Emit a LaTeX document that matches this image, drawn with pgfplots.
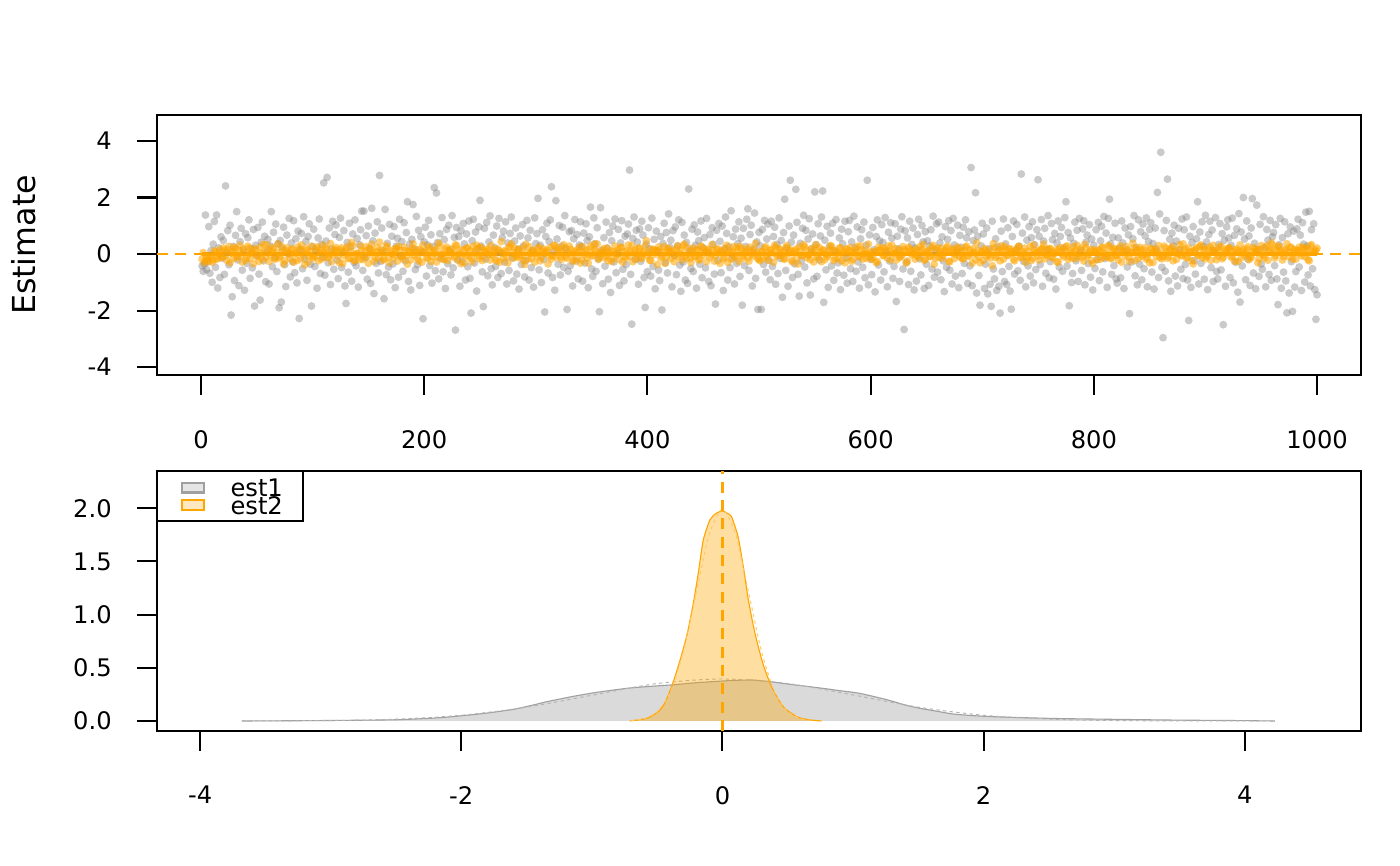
\documentclass[border=0pt]{standalone}
\usepackage{pgfplots}
\usepackage{pgfplotstable}
\pgfplotsset{compat=1.18}
\usepackage{fontspec}
\setmainfont{DejaVu Sans}
\definecolor{rorange}{HTML}{FFA500}
\definecolor{rgray}{HTML}{808080}
\pgfplotstableread[header=false]{
-0.42 -0.61 -0.35 1.38 -0.55 -0.28 0.97 -0.68 0.12 -1.00
0.35 1.15 -0.47 1.38 -1.20 0.22 -0.83 0.61 -0.15 0.48
-0.72 2.41 0.05 0.83 -0.38 1.02 -2.16 -1.51 0.27 -0.94
0.66 1.50 -0.21 -1.12 0.44 0.91 -0.57 0.13 -1.28 0.72
-0.33 0.58 1.21 -0.86 0.19 -0.49 0.87 -1.84 0.31 -0.05
0.94 -0.71 -1.63 0.42 1.13 -0.24 0.63 -0.98 0.08 0.52
-1.06 0.29 1.50 -0.45 0.77 -0.13 1.06 -0.62 0.36 -1.90
0.48 -1.70 0.21 0.95 -0.38 -1.15 0.67 0.02 1.26 -0.81
0.39 -0.27 1.18 -0.66 0.54 -1.02 0.81 -2.28 0.16 0.73
-0.52 1.32 -0.18 0.45 -0.93 0.62 1.07 -0.36 -1.84 0.26
0.88 -0.44 0.11 -1.21 0.57 1.24 -0.69 0.34 -0.12 2.52
-0.75 0.46 2.71 -0.31 0.92 -1.08 0.18 1.16 -0.54 0.69
1.03 -0.22 -0.87 0.59 1.27 -0.48 0.07 0.83 -1.13 -1.75
0.41 -0.64 1.09 0.24 -0.96 0.71 -0.29 1.21 -0.42 0.55
-1.17 0.33 0.86 1.52 -0.58 1.52 -0.14 0.65 -0.89 0.99
0.21 -1.04 1.62 0.47 -1.40 0.74 -0.33 1.14 -0.67 2.78
-0.26 0.92 0.12 -1.58 1.58 -0.73 0.38 -0.46 1.05 -0.91
0.63 -0.35 0.97 -1.19 0.28 0.56 -0.82 1.23 -0.07 0.44
-0.61 1.11 -0.24 0.76 1.85 -0.97 0.35 -1.27 0.52 1.75
0.17 -0.55 1.33 -0.38 0.84 -1.11 0.61 0.09 -2.29 0.43
0.95 -0.78 0.32 1.19 -0.41 0.68 -1.03 0.26 2.35 -0.59
2.16 0.41 -0.88 0.72 -0.16 1.29 -0.63 0.51 -1.22 0.87
-0.34 1.02 0.15 -0.74 1.36 -0.49 0.59 -2.69 0.94 -0.21
0.62 -1.14 0.83 -0.27 1.08 0.36 -0.92 0.71 -0.45 1.17
-0.86 -2.09 0.47 1.23 -0.32 0.78 -1.31 0.19 0.96 1.90
0.28 -0.63 -1.86 0.91 -0.18 1.12 -0.77 0.43 1.35 -0.52
-1.09 0.67 0.23 -0.44 0.99 -0.83 1.26 0.05 -0.69 0.58
0.81 -0.29 1.14 -1.06 0.39 -0.58 0.73 1.31 -0.14 -0.95
0.46 0.92 -0.71 0.18 -1.24 0.64 -0.37 1.04 0.29 -0.81
-0.23 1.19 0.57 -0.92 0.84 -0.48 0.13 -1.17 1.28 0.37
0.72 1.97 -0.56 0.31 -1.01 0.86 -0.19 -2.05 0.62 1.09
-0.67 0.44 1.21 2.38 -0.83 0.09 -1.28 1.89 0.53 -0.36
1.01 -0.74 0.28 0.95 -0.47 1.36 0.17 -1.96 -0.61 0.79
-0.41 0.83 -1.13 0.54 1.22 -0.25 0.69 -0.88 0.32 1.14
0.26 -0.96 0.74 -0.32 1.07 0.48 -1.19 0.61 1.66 -0.53
-0.79 1.28 0.36 -0.61 0.93 -0.17 -2.04 1.64 0.14 -1.05
0.58 -0.43 1.13 0.21 -0.89 0.76 -1.36 0.47 0.99 -0.28
1.24 -0.66 0.04 0.87 -1.11 0.39 1.18 -0.54 -0.95 0.63
-0.37 0.71 1.06 2.97 -0.72 -2.48 0.55 1.31 -0.19 0.84
0.42 -1.07 0.89 -0.26 1.16 0.67 -0.83 -1.89 0.35 -0.62
0.93 0.18 -0.78 1.27 -0.44 0.52 -1.23 0.81 0.11 -0.57
-0.94 0.62 -1.98 0.37 1.09 -0.31 0.76 -0.67 1.42 0.24
0.49 -1.16 0.83 -0.05 0.96 -0.73 0.29 1.21 -0.39 -1.32
1.12 -0.28 0.67 -0.92 0.41 -1.04 2.30 0.16 -0.51 0.88
-0.62 1.03 0.31 -1.21 0.78 0.47 -0.36 1.17 -0.84 0.22
0.58 -0.49 1.26 0.07 -0.97 0.69 -1.12 0.93 0.34 -0.71
-1.77 0.84 -0.23 1.08 0.45 -0.66 0.99 -1.29 0.19 1.31
0.73 -0.92 0.26 -0.48 1.53 -0.14 0.61 -1.06 0.88 -0.33
0.37 1.14 -0.79 0.56 -1.81 0.91 -0.41 0.27 1.23 1.60
-0.58 0.69 1.02 -1.13 0.18 1.45 -0.86 0.43 -1.96 0.77
0.29 -1.96 0.87 -0.37 1.19 -0.64 0.53 1.06 -0.22 -0.91
1.16 -0.44 0.62 0.95 -1.07 0.34 -0.69 1.28 -0.16 0.48
-1.53 0.76 1.94 -0.58 0.21 -1.14 0.99 2.61 0.42 -0.83
0.67 -0.35 2.29 1.12 -0.72 -1.49 0.38 -0.24 0.91 1.37
-0.46 0.84 -1.02 0.53 1.25 -1.45 0.17 0.71 -0.88 2.20
0.33 -0.79 1.07 -0.21 0.64 1.31 2.23 -1.71 0.49 -0.56
0.98 -1.18 0.26 0.74 -0.42 1.09 -0.93 0.12 1.22 -0.67
-0.31 0.57 -1.26 0.88 0.36 -0.75 1.16 -0.14 -1.03 0.79
1.19 -0.52 0.43 -0.97 1.34 0.22 -0.61 0.96 -0.28 -1.21
0.54 0.86 -0.47 1.13 -0.84 0.31 2.61 -1.09 0.68 -0.19
-0.73 0.94 0.15 -1.34 0.62 1.21 -0.39 0.47 -0.92 1.04
0.41 -0.63 1.29 0.08 -1.16 0.77 -0.25 1.11 0.56 -0.86
-0.44 1.07 -1.68 0.63 0.19 -0.97 0.88 1.32 -0.53 -2.67
0.82 -0.29 0.57 -1.08 1.16 -0.61 0.34 0.92 -1.27 0.21
-0.96 0.69 1.23 -0.17 -0.74 1.01 0.43 -1.22 0.79 -0.36
0.47 -1.11 0.28 0.86 -0.53 1.34 -0.82 0.14 1.07 -0.64
1.13 0.39 -0.91 0.61 -0.24 -1.33 0.97 -0.47 0.52 1.18
-0.57 0.83 -1.06 1.26 0.32 -0.78 0.08 1.02 -1.19 0.66
0.24 -0.69 0.95 -0.33 1.21 0.57 -1.04 0.79 -0.42 3.06
-1.12 0.47 0.85 2.17 -1.38 0.63 -0.76 -1.81 0.29 1.09
0.71 -1.22 -0.36 0.92 -1.41 0.19 -1.07 -1.85 1.16 -0.53
-0.88 0.54 -1.29 0.27 -1.14 -2.09 0.81 -0.62 1.24 -0.97
0.36 -1.08 0.93 -0.44 -1.31 -1.95 0.62 1.17 -0.71 0.15
1.05 -0.59 0.28 -0.93 2.83 0.74 -0.26 1.31 -1.16 0.49
-0.42 0.97 -0.78 0.58 1.14 -1.02 0.33 -0.55 0.86 2.63
0.63 -0.37 1.22 -1.14 0.46 0.91 -0.68 0.17 1.36 -0.84
-0.27 1.08 0.51 -0.89 0.73 -1.24 0.39 1.17 -0.46 0.62
0.94 -0.61 0.22 1.29 1.85 -0.43 0.76 -1.83 0.57 -1.01
-0.69 0.38 1.13 -0.24 0.84 -0.97 1.26 0.11 -0.58 0.89
1.18 -1.09 0.42 0.67 -0.34 1.04 -0.82 0.53 -1.27 0.31
-0.51 0.86 -0.19 1.12 -0.94 0.47 0.98 -0.63 1.33 -0.16
0.74 -1.18 1.26 1.94 0.36 -0.72 0.59 -0.41 1.09 -0.88
-1.03 0.57 0.21 -0.84 1.17 0.39 -1.22 0.92 0.13 -0.46
0.68 -2.11 0.97 -0.28 0.54 1.36 -0.77 0.23 -1.09 1.21
-0.36 0.79 -0.91 1.06 -0.52 0.64 1.28 -1.16 0.44 0.87
1.11 -0.64 0.37 -1.24 0.92 0.18 2.18 -0.83 1.42 3.60
-0.47 -2.96 0.83 -0.61 1.19 2.65 -0.95 0.52 -1.32 0.74
0.29 1.02 -0.78 0.46 -1.13 0.91 0.16 -0.54 1.24 -0.87
0.86 -0.37 1.31 -0.92 -2.35 0.63 -1.18 0.41 0.97 -0.23
-0.71 0.54 1.85 -1.06 0.78 -0.33 1.14 0.27 -0.89 1.37
0.43 -1.26 0.69 1.16 -0.48 0.85 -0.97 0.12 1.29 -0.62
-0.88 0.34 1.08 -0.56 0.72 -2.50 0.49 -1.14 0.96 1.21
0.57 -0.83 0.31 1.27 -1.02 0.66 -0.29 0.89 -1.35 1.43
-1.70 0.78 -0.42 2.00 0.53 -0.91 1.17 -0.18 0.64 -1.11
0.92 1.96 -0.67 0.38 -1.23 1.73 0.16 -0.79 1.05 -0.35
-0.54 1.32 0.24 -1.16 0.87 0.49 -0.72 1.19 -0.93 0.61
0.76 -0.41 1.04 -0.88 -1.79 0.33 1.26 -1.21 0.58 -0.64
1.14 -0.95 -2.08 0.72 -1.38 0.96 -0.27 -2.03 0.81 -1.17
-0.62 0.89 1.23 -0.46 0.67 -1.29 1.11 0.35 -0.99 1.48
0.28 -0.74 1.51 -1.13 0.86 -0.52 1.07 -1.26 -2.31 -1.44
}\graydata
\pgfplotstableread[header=false]{
-0.18 -0.31 -0.12 -0.25 -0.05 -0.21 0.08 -0.14 0.15 -0.09
0.12 -0.22 0.27 0.03 -0.16 0.19 -0.07 0.31 -0.28 0.06
-0.11 0.21 0.02 -0.34 0.14 -0.05 0.24 -0.19 0.09 0.33
-0.26 0.07 0.18 -0.13 0.36 -0.08 0.11 -0.23 0.22 -0.02
0.16 -0.29 0.04 0.25 -0.17 0.09 -0.38 0.13 -0.06 0.28
-0.14 0.19 -0.24 0.06 0.31 -0.11 0.17 -0.03 -0.27 0.12
0.23 -0.08 0.14 -0.33 0.05 0.26 -0.15 0.41 -0.21 0.01
-0.04 0.29 -0.19 0.11 -0.09 0.18 0.35 -0.26 0.08 -0.13
0.15 -0.22 0.07 0.24 -0.31 0.03 -0.12 0.19 0.27 -0.07
-0.18 0.13 -0.36 0.09 0.21 -0.05 0.16 -0.24 0.04 0.32
0.06 -0.15 0.26 -0.09 0.12 -0.28 0.38 -0.02 -0.19 0.17
-0.23 0.08 0.19 -0.12 0.29 0.01 -0.34 0.14 -0.06 0.22
0.11 -0.27 0.04 0.31 -0.16 0.23 -0.08 0.07 0.18 -0.21
-0.03 0.16 -0.25 0.12 0.44 -0.14 0.09 -0.31 0.27 0.05
0.21 -0.11 0.14 -0.04 -0.23 0.34 -0.17 0.02 0.13 -0.29
-0.08 0.25 -0.13 0.18 0.07 -0.35 0.22 -0.06 0.29 0.11
0.14 -0.19 0.33 -0.10 0.05 0.17 -0.26 0.09 -0.14 0.24
-0.21 0.06 0.12 -0.32 0.27 -0.04 0.15 0.36 -0.12 0.03
0.19 -0.07 -0.24 0.11 -0.15 0.28 0.01 -0.20 0.23 -0.09
-0.13 0.32 0.08 -0.27 0.16 -0.03 0.21 -0.16 0.10 0.47
0.04 -0.23 0.17 0.09 -0.37 0.14 -0.08 0.26 -0.11 0.19
-0.16 0.11 -0.05 0.29 0.02 -0.21 0.35 -0.14 0.07 -0.30
0.22 -0.09 0.13 -0.18 0.24 0.06 -0.27 0.15 -0.02 0.12
-0.06 0.18 -0.33 0.08 -0.12 0.31 0.04 -0.19 0.26 -0.10
0.13 0.27 -0.15 0.05 0.19 -0.25 0.10 -0.07 0.38 -0.17
-0.24 0.09 0.21 -0.11 0.03 0.16 -0.29 0.23 -0.04 0.14
0.07 -0.18 0.30 0.12 -0.22 0.04 0.17 -0.35 0.11 -0.06
0.25 -0.13 -0.02 0.19 -0.28 0.33 -0.09 0.06 0.15 -0.20
-0.10 0.14 0.27 -0.23 0.08 -0.15 0.22 0.01 -0.31 0.18
0.11 -0.26 0.05 0.16 -0.07 0.29 -0.18 0.12 0.03 -0.12
-0.19 0.07 -0.30 0.24 0.13 -0.05 0.20 -0.14 0.09 0.31
0.02 -0.21 0.15 -0.09 0.26 0.10 -0.25 0.18 -0.03 0.12
0.17 -0.11 0.08 0.34 -0.19 0.05 -0.08 0.23 -0.36 0.14
-0.12 0.21 -0.04 0.11 0.28 -0.27 0.13 -0.16 0.06 0.19
0.09 -0.17 0.24 -0.06 0.15 -0.32 0.04 0.40 -0.10 0.07
-0.23 0.13 0.06 -0.14 -0.41 0.22 -0.07 0.16 0.29 -0.18
0.15 -0.04 0.19 0.03 -0.24 0.11 0.27 -0.12 0.08 -0.29
-0.08 0.26 -0.16 0.12 0.07 -0.21 0.18 0.35 -0.05 0.14
0.20 -0.13 0.02 -0.28 0.17 0.09 -0.10 0.25 -0.19 0.05
-0.15 0.10 0.31 -0.07 0.13 -0.25 0.21 -0.02 0.16 -0.33
0.08 -0.20 0.14 0.23 -0.12 0.04 0.30 -0.16 0.11 0.19
-0.05 0.17 -0.29 0.09 0.26 -0.11 0.06 0.38 -0.22 0.13
0.24 -0.08 0.12 -0.18 0.03 0.20 -0.30 0.15 0.07 -0.13
-0.17 0.28 0.05 -0.09 0.19 -0.24 0.11 0.01 0.33 -0.06
0.12 -0.14 0.22 0.07 -0.35 0.16 -0.03 0.27 -0.12 0.18
-0.09 0.19 -0.22 0.31 0.10 -0.07 0.24 -0.17 0.04 0.15
0.21 -0.11 0.06 0.14 -0.26 0.32 0.09 -0.05 0.18 -0.20
-0.13 0.23 0.11 -0.31 0.17 0.02 -0.14 0.29 0.08 0.40
0.16 -0.06 0.27 0.10 -0.21 0.13 0.36 -0.10 0.22 0.05
-0.18 0.12 0.04 0.25 -0.09 0.19 -0.24 0.33 0.07 0.14
}\orangedata
\pgfplotstableread[header=false]{
0.05 -0.24 -0.16 -0.08 -0.29 0.11 -0.19 0.02 -0.12 0.21
-0.06 0.16 -0.31 0.09 0.24 -0.13 0.13 -0.04 0.18 -0.22
0.28 -0.15 0.07 0.19 -0.09 -0.26 0.03 0.34 -0.11 0.14
-0.02 0.23 -0.19 0.06 -0.14 0.27 -0.35 0.12 0.04 -0.17
0.18 0.01 -0.23 0.15 0.32 -0.06 0.20 -0.28 0.09 -0.10
-0.07 0.25 0.13 -0.18 0.06 0.21 -0.12 0.37 -0.03 0.16
0.10 -0.30 0.22 -0.05 0.17 -0.16 0.08 0.29 -0.24 0.03
-0.20 0.12 -0.08 0.26 -0.33 0.15 0.05 -0.11 0.23 0.42
0.06 -0.17 0.30 -0.12 0.11 -0.03 0.19 -0.25 0.14 -0.08
0.24 -0.05 0.10 -0.21 0.36 0.07 -0.14 0.17 -0.29 0.09
-0.12 0.20 -0.26 0.04 0.15 -0.10 0.28 0.02 -0.18 0.25
0.13 -0.07 0.05 0.33 -0.20 0.16 -0.04 -0.31 0.21 -0.09
-0.15 0.27 0.11 -0.06 0.22 -0.23 0.08 0.14 -0.02 0.30
0.07 -0.19 0.18 -0.28 0.03 0.12 -0.09 0.24 0.36 -0.14
-0.04 0.15 -0.12 0.21 -0.37 0.06 0.26 -0.16 0.10 0.02
0.19 -0.24 0.09 0.03 0.14 -0.08 -0.18 0.31 -0.11 0.23
-0.10 0.06 0.22 -0.15 0.28 0.01 -0.21 0.13 0.07 -0.32
0.26 -0.03 -0.13 0.17 -0.07 0.35 0.10 -0.19 0.04 0.12
-0.14 0.21 0.03 -0.26 0.09 -0.04 0.15 0.24 -0.29 0.08
0.11 -0.09 0.30 0.05 -0.18 0.20 -0.12 0.02 0.27 -0.06
-0.22 0.16 -0.02 0.12 0.25 -0.14 0.06 -0.33 0.18 0.09
0.04 -0.27 0.19 -0.10 0.13 0.29 -0.05 0.22 -0.16 0.10
-0.08 0.14 -0.21 0.28 -0.03 0.07 0.17 -0.12 0.34 -0.25
0.17 0.03 0.11 -0.17 0.20 -0.30 0.12 0.06 -0.09 0.23
-0.26 0.18 -0.06 0.09 -0.14 0.24 -0.01 0.15 0.05 -0.19
0.08 -0.12 0.26 -0.22 0.13 0.04 0.31 -0.08 0.19 -0.03
-0.17 0.22 0.02 0.15 -0.28 0.10 -0.13 0.25 -0.05 0.33
0.14 -0.04 -0.20 0.07 0.18 -0.11 0.23 -0.27 0.12 0.01
-0.03 0.30 0.13 -0.16 0.05 0.21 -0.24 0.08 0.16 -0.12
0.23 -0.19 0.06 0.27 -0.10 0.14 0.02 -0.15 0.35 0.09
-0.11 0.09 -0.27 0.14 0.22 -0.06 0.12 0.28 -0.21 0.04
0.19 0.05 -0.13 -0.04 0.16 -0.32 0.24 0.10 0.02 -0.18
-0.07 0.26 0.17 -0.22 0.09 0.13 -0.09 0.31 -0.14 0.21
0.03 -0.15 0.11 0.22 -0.26 0.07 0.18 -0.02 0.25 -0.10
-0.16 0.12 0.28 -0.08 0.04 0.19 -0.20 0.14 -0.31 0.06
0.20 -0.09 -0.03 0.16 0.37 -0.13 0.08 -0.24 0.11 0.27
-0.05 0.17 0.09 -0.19 0.12 0.25 -0.11 0.03 0.21 -0.14
0.10 -0.23 0.32 0.05 -0.07 0.14 0.20 -0.17 -0.02 0.18
-0.12 0.07 0.15 -0.28 0.23 -0.04 0.11 0.29 -0.09 0.13
0.26 -0.16 0.02 0.19 -0.12 0.34 -0.07 0.08 -0.23 0.15
0.06 0.13 -0.18 0.24 0.01 -0.10 0.27 -0.14 0.17 -0.05
-0.21 0.29 0.10 -0.06 0.16 -0.26 0.04 0.21 0.12 -0.15
0.15 -0.02 0.23 -0.13 -0.31 0.18 0.07 -0.08 0.30 0.03
-0.09 0.21 -0.15 0.12 0.26 0.05 -0.19 0.14 -0.04 0.36
0.18 -0.12 0.06 -0.24 0.11 0.22 -0.06 0.32 0.15 -0.17
-0.03 0.25 0.14 0.08 -0.20 0.12 0.28 -0.11 0.04 0.19
0.22 -0.07 -0.25 0.17 0.09 -0.14 0.16 0.02 0.26 -0.10
0.07 0.18 0.12 -0.16 0.30 -0.05 0.21 -0.22 0.13 0.33
-0.14 0.11 0.27 0.04 -0.09 0.17 0.08 0.25 -0.18 0.16
0.12 0.24 -0.06 0.19 0.14 -0.20 0.29 0.07 0.10 0.21
}\orangedatab
\pgfplotstableread{
x y
-3.68 0
-3.2 0.003
-2.8 0.007
-2.49 0.012
-2.2 0.028
-1.99 0.05
-1.8 0.075
-1.6 0.11
-1.45 0.15
-1.35 0.18
-1.15 0.23
-0.96 0.27
-0.71 0.31
-0.5 0.33
-0.38 0.34
-0.2 0.36
0.06 0.38
0.23 0.385
0.36 0.37
0.55 0.34
0.75 0.31
0.9 0.285
1.05 0.26
1.26 0.20
1.4 0.15
1.51 0.12
1.65 0.09
1.77 0.065
1.95 0.048
2.15 0.037
2.53 0.024
2.8 0.019
3.04 0.015
3.5 0.008
3.94 0.004
4.23 0
}\densone
\pgfplotstableread{
x y
-3.68 0.0005
-3.0 0.0044
-2.5 0.0175
-2.0 0.054
-1.5 0.13
-1.0 0.242
-0.5 0.352
0.0 0.395
0.5 0.352
1.0 0.245
1.5 0.13
2.0 0.054
2.5 0.0175
3.0 0.0044
3.5 0.0009
4.23 0.0
}\normone
\pgfplotstableread{
x y
-0.71 0
-0.58 0.025
-0.5 0.08
-0.45 0.15
-0.39 0.32
-0.325 0.57
-0.27 0.82
-0.224 1.10
-0.185 1.39
-0.147 1.70
-0.096 1.89
-0.05 1.95
0 1.975
0.04 1.95
0.07 1.92
0.12 1.73
0.16 1.45
0.198 1.14
0.25 0.82
0.31 0.54
0.377 0.32
0.466 0.134
0.57 0.04
0.66 0.012
0.76 0
}\denstwo
\pgfplotstableread{
x y
-0.7 0.004
-0.6 0.022
-0.5 0.088
-0.4 0.27
-0.3 0.65
-0.2 1.21
-0.1 1.76
0 1.99
0.1 1.76
0.2 1.21
0.3 0.65
0.4 0.27
0.5 0.088
0.6 0.022
0.7 0.004
}\normtwo
\pgfplotsset{
  rstyle/.style={
    scale only axis, width=433.44bp, height=93.6bp,
    axis line style={line width=0.75bp},
    tick style={line width=0.75bp, black},
    major tick length=7.2bp,
    tick align=outside, tick pos=left,
    tick label style={font=\fontsize{8.7bp}{10bp}\selectfont},
    xticklabel style={yshift=-9.2bp},
    yticklabel style={xshift=-5.6bp},
    clip=true,
  },
  graypts/.style={only marks, mark=*, mark size=1.42bp, color=rgray,
    mark options={draw opacity=0, fill=rgray, fill opacity=0.42}},
  orpts/.style={only marks, mark=*, mark size=1.42bp, color=rorange,
    mark options={draw opacity=0, fill=rorange, fill opacity=0.55}},
}
\begin{document}
\begin{tikzpicture}
\path[use as bounding box] (0,0) rectangle (504bp,311.76bp);
\begin{axis}[rstyle, at={(56.52bp,176.76bp)}, anchor=south west,
  xmin=-39.4, xmax=1039.4, ymin=-4.28, ymax=4.92,
  xtick={0,200,400,600,800,1000}, xticklabels={0,200,400,600,800,1000},
  ytick={-4,-2,0,2,4}, yticklabels={-4,-2,0,2,4}]
\pgfplotsinvokeforeach{0,...,9}{
  \addplot[graypts] table[x expr=\coordindex*10+#1+1, y index=#1]{\graydata};
}
\pgfplotsinvokeforeach{0,...,9}{
  \addplot[orpts] table[x expr=\coordindex*20+2*#1+1, y index=#1]{\orangedata};
  \addplot[orpts] table[x expr=\coordindex*20+2*#1+2, y index=#1]{\orangedatab};
}
\addplot[rorange, line width=1.2bp] coordinates {(1,0) (1000,0)};
\addplot[rorange, line width=1bp, dash pattern=on 4bp off 2.6bp] coordinates {(-39.4,0) (1039.4,0)};
\end{axis}
\node[rotate=90, anchor=base, font=\fontsize{11.4bp}{13bp}\selectfont] at (12.6bp,223.56bp) {Estimate};
\begin{axis}[rstyle, at={(56.52bp,48.6bp)}, anchor=south west,
  xmin=-4.33, xmax=4.89, ymin=-0.094, ymax=2.35,
  xtick={-4,-2,0,2,4}, xticklabels={-4,-2,0,2,4},
  ytick={0,0.5,1,1.5,2}, yticklabels={0.0,0.5,1.0,1.5,2.0}]
\addplot[draw=none, fill=rgray, fill opacity=0.29, smooth, tension=0.4] table[x=x,y=y]{\densone};
\addplot[draw=rgray!75, line width=0.4bp, smooth, tension=0.4] table[x=x,y=y]{\densone};
\addplot[draw=rgray!60, line width=0.35bp, dash pattern=on 1.2bp off 1.2bp, smooth, tension=0.5] table[x=x,y=y]{\normone};
\addplot[draw=none, fill=rorange, fill opacity=0.37, smooth, tension=0.4] table[x=x,y=y]{\denstwo};
\addplot[draw=rorange, line width=0.4bp, smooth, tension=0.4] table[x=x,y=y]{\denstwo};
\addplot[draw=rorange!60, line width=0.35bp, dash pattern=on 1.2bp off 1.2bp, smooth, tension=0.4] table[x=x,y=y]{\normtwo};
\addplot[rorange, line width=1bp, dash pattern=on 4bp off 2.6bp] coordinates {(0,-0.094) (0,2.35)};
\end{axis}
% legend
\draw[line width=0.75bp, fill=white] (56.52bp,124.2bp) rectangle (109.08bp,142.2bp);
\draw[line width=0.9bp, draw=rgray!75, fill=rgray, fill opacity=0.2] (65.5bp,134.4bp) rectangle (73.4bp,137.8bp);
\draw[line width=0.9bp, draw=rorange, fill=rorange, fill opacity=0.25] (65.5bp,128.2bp) rectangle (73.4bp,131.8bp);
\node[anchor=base west, inner sep=0pt, font=\fontsize{8.7bp}{10bp}\selectfont] at (82.8bp,132.9bp) {est1};
\node[anchor=base west, inner sep=0pt, font=\fontsize{8.7bp}{10bp}\selectfont] at (82.8bp,126.7bp) {est2};
\end{tikzpicture}
\end{document}
